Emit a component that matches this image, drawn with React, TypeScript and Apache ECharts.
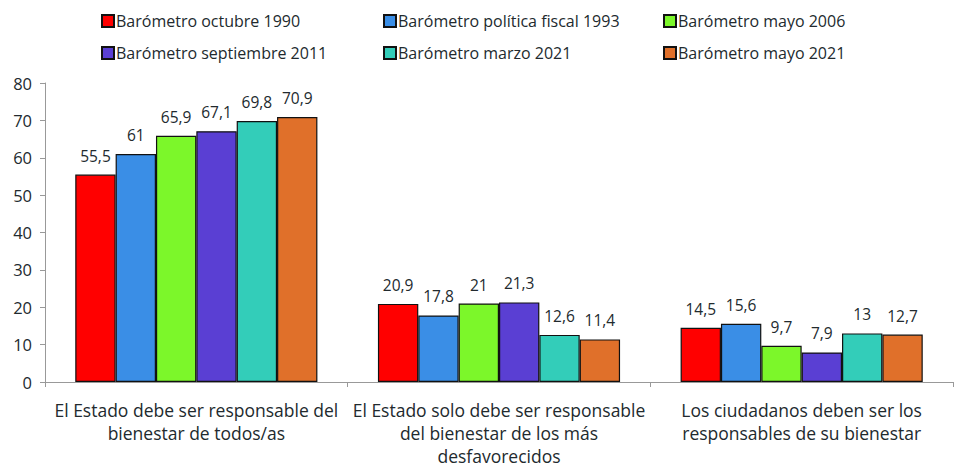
import React, { useEffect, useRef } from "react";
import * as echarts from "echarts";

const categories = [
  "El Estado debe ser responsable del\nbienestar de todos/as",
  "El Estado solo debe ser responsable\ndel bienestar de los más\ndesfavorecidos",
  "Los ciudadanos deben ser los\nresponsables de su bienestar",
];
const seriesNames = [
  "Barómetro octubre 1990",
  "Barómetro política fiscal 1993",
  "Barómetro mayo 2006",
  "Barómetro septiembre 2011",
  "Barómetro marzo 2021",
  "Barómetro mayo 2021",
];
const octubre1990 = [55.5, 20.9, 14.5];
const fiscal1993 = [61, 17.8, 15.6];
const mayo2006 = [65.9, 21, 9.7];
const septiembre2011 = [67.1, 21.3, 7.9];
const marzo2021 = [69.8, 12.6, 13];
const mayo2021 = [70.9, 11.4, 12.7];
const seriesValues = [octubre1990, fiscal1993, mayo2006, septiembre2011, marzo2021, mayo2021];
const colors = ["#FF0000", "#3A8EE6", "#7CF72A", "#5A3FD3", "#33CDB9", "#E0702A"];
const yTicks = [0, 10, 20, 30, 40, 50, 60, 70, 80];

const FONT = "'Open Sans', Lato, sans-serif";
const TEXT = "#222a2e";

export default function App() {
  const ref = useRef<HTMLDivElement>(null);
  useEffect(() => {
    document.body.style.margin = "0";
    const chart = echarts.init(ref.current!, null, { renderer: "svg" });
    const legendCommon = {
      orient: "vertical",
      top: 7,
      itemGap: 14,
      itemWidth: 12,
      itemHeight: 12,
      icon: "rect",
      textStyle: {
        fontFamily: FONT,
        fontSize: 16,
        lineHeight: 18,
        color: TEXT,
        padding: [0, 0, 0, -3],
      },
      selectedMode: false,
    };
    chart.setOption({
      animation: false,
      color: colors,
      textStyle: { fontFamily: FONT },
      legend: [
        { ...legendCommon, left: 96, data: [seriesNames[0], seriesNames[3]] },
        { ...legendCommon, left: 378, data: [seriesNames[1], seriesNames[4]] },
        { ...legendCommon, left: 658, data: [seriesNames[2], seriesNames[5]] },
      ],
      grid: { left: 45, right: 16, top: 83, bottom: 93, containLabel: false },
      xAxis: {
        type: "category",
        data: categories,
        axisLine: { lineStyle: { color: "#999" } },
        axisTick: { show: true, length: 5, lineStyle: { color: "#999" } },
        axisLabel: {
          fontFamily: FONT,
          fontSize: 17.5,
          color: TEXT,
          lineHeight: 23,
          margin: 16,
          interval: 0,
        },
      },
      yAxis: {
        type: "value",
        min: yTicks[0],
        max: yTicks[yTicks.length - 1],
        interval: 10,
        splitLine: { show: false },
        axisLine: { show: true, lineStyle: { color: "#999" } },
        axisTick: { show: true, length: 5, lineStyle: { color: "#999" } },
        axisLabel: { fontFamily: FONT, fontSize: 16.5, color: TEXT, margin: 13 },
      },
      series: seriesNames.map((name, i) => ({
        name,
        type: "bar",
        data: seriesValues[i],
        barGap: "0%",
        barCategoryGap: "20%",
        itemStyle: { color: colors[i], borderColor: "#111", borderWidth: 1.2 },
        label: {
          show: true,
          position: "top",
          distance: 11,
          fontFamily: FONT,
          fontSize: 15.5,
          color: TEXT,
          formatter: (p: any) => String(p.value).replace(".", ","),
        },
      })),
    });
    return () => chart.dispose();
  }, []);
  return <div ref={ref} style={{ width: 969, height: 475 }} />;
}
